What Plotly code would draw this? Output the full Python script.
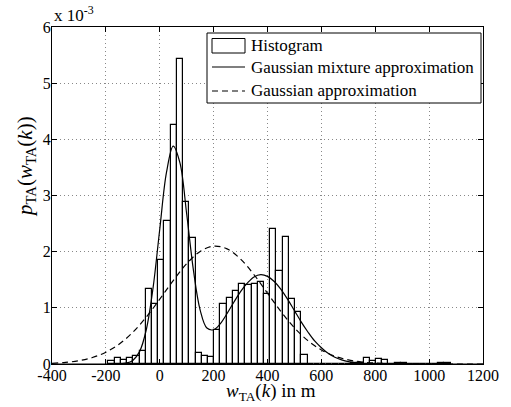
import numpy as np
import plotly.graph_objects as go

# ---------------- data (values in units of 1e-3) ----------------
bin_first_edge = -52.0
bin_width = 23.1
hist_values = [
    0.06, 0.11, 0.07, 0.10, 0.14, 0.24,            # k=-6..-1
    1.33, 1.07, 1.86, 2.55, 4.26, 5.43, 2.88, 2.24,  # k=0..7
    0.195, 0.15, 0.12, 0.60, 1.07, 1.18, 1.30, 1.43,  # k=8..15
    1.40, 1.43, 1.46, 1.24, 2.40, 1.66, 2.26, 1.15,   # k=16..23
    0.92, 0.165, 0, 0, 0, 0, 0, 0,                   # k=24..31
    0, 0.01, 0.01, 0.11, 0.055, 0.085, 0.065, 0,     # k=32..39
    0.01, 0.01, 0, 0, 0, 0, 0, 0.01, 0.01,           # k=40..48
]
hist_k_start = -6

gmm_x = [-400, -300, -200, -175, -150, -125, -100, -75, -50, -25, 0, 25, 50, 75,
         100, 125, 150, 175, 200, 225, 250, 275, 300, 325, 350, 375, 400, 425,
         450, 475, 500, 525, 550, 575, 600, 625, 650, 675, 700, 750, 800, 900, 1200]
gmm_y = [0, 0, 0, 0.0005, 0.003, 0.015, 0.064, 0.22, 0.61, 1.35, 2.40, 3.41, 3.88, 3.58,
         2.67, 1.67, 0.96, 0.64, 0.61, 0.72, 0.90, 1.10, 1.29, 1.44, 1.55, 1.59, 1.56, 1.47,
         1.33, 1.15, 0.95, 0.75, 0.57, 0.41, 0.29, 0.19, 0.12, 0.074, 0.043, 0.013, 0.003, 0, 0]

gauss_x = [-400, -350, -300, -250, -200, -150, -100, -50, 0, 50, 100, 150, 200, 250,
           300, 350, 400, 450, 500, 550, 600, 650, 700, 750, 800, 850, 900, 1000, 1100, 1200]
gauss_y = [0.0125, 0.028, 0.059, 0.115, 0.21, 0.356, 0.564, 0.835, 1.154, 1.486, 1.787,
           2.004, 2.098, 2.049, 1.868, 1.589, 1.26, 0.933, 0.645, 0.416, 0.25, 0.14,
           0.0736, 0.036, 0.0164, 0.007, 0.003, 0.0004, 0, 0]

x_ticks = [-400, -200, 0, 200, 400, 600, 800, 1000, 1200]
y_ticks = [0, 1, 2, 3, 4, 5, 6]
legend_labels = ["Histogram", "Gaussian mixture approximation", "Gaussian approximation"]

# ---------------- layout geometry (pixels) ----------------
W, H = 511, 407
L, R, T, B = 52, 483, 27, 364
FONT = "Liberation Serif"


def px(x):
    return (x - L) / (R - L)


def py(y):
    return (B - y) / (B - T)


k = np.arange(hist_k_start, hist_k_start + len(hist_values))
centers = bin_first_edge + bin_width * (k + 0.5)

fig = go.Figure()
fig.add_trace(go.Bar(
    x=centers, y=hist_values, width=bin_width,
    marker=dict(color="white", line=dict(color="black", width=1.2)),
    name=legend_labels[0], showlegend=False,
))
fig.add_trace(go.Scatter(
    x=gmm_x, y=gmm_y, mode="lines", line=dict(color="black", width=1.2, shape="spline"),
    name=legend_labels[1], showlegend=False,
))
fig.add_trace(go.Scatter(
    x=gauss_x, y=gauss_y, mode="lines",
    line=dict(color="black", width=1.2, dash="6px,4px", shape="spline"),
    name=legend_labels[2], showlegend=False,
))

axis_common = dict(
    showline=True, linecolor="black", linewidth=1, mirror="ticks",
    ticks="inside", ticklen=5, tickcolor="black",
    showgrid=True, gridcolor="#888888", gridwidth=1, griddash="1px,3px",
    zeroline=False, tickfont=dict(family=FONT, size=16, color="black"),
)
fig.update_xaxes(range=[-400, 1200], tickvals=x_ticks,
                 ticktext=[str(v) for v in x_ticks], ticklabelstandoff=-3, **axis_common)
fig.update_yaxes(range=[0, 6], tickvals=y_ticks, ticktext=[str(v) for v in y_ticks],
                 ticklabelstandoff=-3, **axis_common)

shapes = []
annotations = []
# legend box
shapes.append(dict(type="rect", xref="paper", yref="paper",
                   x0=px(207), x1=px(481), y0=py(103), y1=py(33),
                   fillcolor="white", line=dict(color="black", width=1), layer="above"))
# histogram symbol
shapes.append(dict(type="rect", xref="paper", yref="paper",
                   x0=px(212), x1=px(245), y0=py(53), y1=py(38.5),
                   fillcolor="white", line=dict(color="black", width=1), layer="above"))
# solid line symbol
shapes.append(dict(type="line", xref="paper", yref="paper",
                   x0=px(212), x1=px(245), y0=py(67), y1=py(67),
                   line=dict(color="black", width=1.2), layer="above"))
# dashed line symbol
shapes.append(dict(type="line", xref="paper", yref="paper",
                   x0=px(212), x1=px(245), y0=py(91), y1=py(91),
                   line=dict(color="black", width=1.2, dash="6px,4px"), layer="above"))
for lab, yc in zip(legend_labels, [46, 67.5, 90]):
    annotations.append(dict(text=lab, xref="paper", yref="paper", x=px(249), y=py(yc),
                            xanchor="left", yanchor="middle", showarrow=False,
                            font=dict(family=FONT, size=17, color="black")))

# axis titles
annotations.append(dict(
    text="<i>w</i><sub>TA</sub>(<i>k</i>) in m", xref="paper", yref="paper",
    x=px(271), y=py(391.5), xanchor="center", yanchor="middle", showarrow=False,
    font=dict(family=FONT, size=19, color="black")))
annotations.append(dict(
    text="<i>p</i><sub>TA</sub>(<i>w</i><sub>TA</sub>(<i>k</i>))",
    xref="paper", yref="paper",
    x=px(26), y=py(167), xanchor="center", yanchor="middle", showarrow=False,
    textangle=-90, font=dict(family=FONT, size=21, color="black")))
# exponent
annotations.append(dict(
    text="x 10<sup>-3</sup>", xref="paper", yref="paper",
    x=px(52), y=py(14), xanchor="left", yanchor="middle", showarrow=False,
    font=dict(family=FONT, size=17, color="black")))

fig.update_layout(
    width=W, height=H,
    margin=dict(l=L, r=W - R, t=T, b=H - B, pad=0),
    paper_bgcolor="white", plot_bgcolor="white",
    bargap=0, showlegend=False,
    shapes=shapes, annotations=annotations,
    font=dict(family=FONT, color="black"),
)

fig.write_html(
    "out.html",
    config={"displayModeBar": False},
    post_script="document.body.style.margin='0';document.body.style.padding='0';",
)
